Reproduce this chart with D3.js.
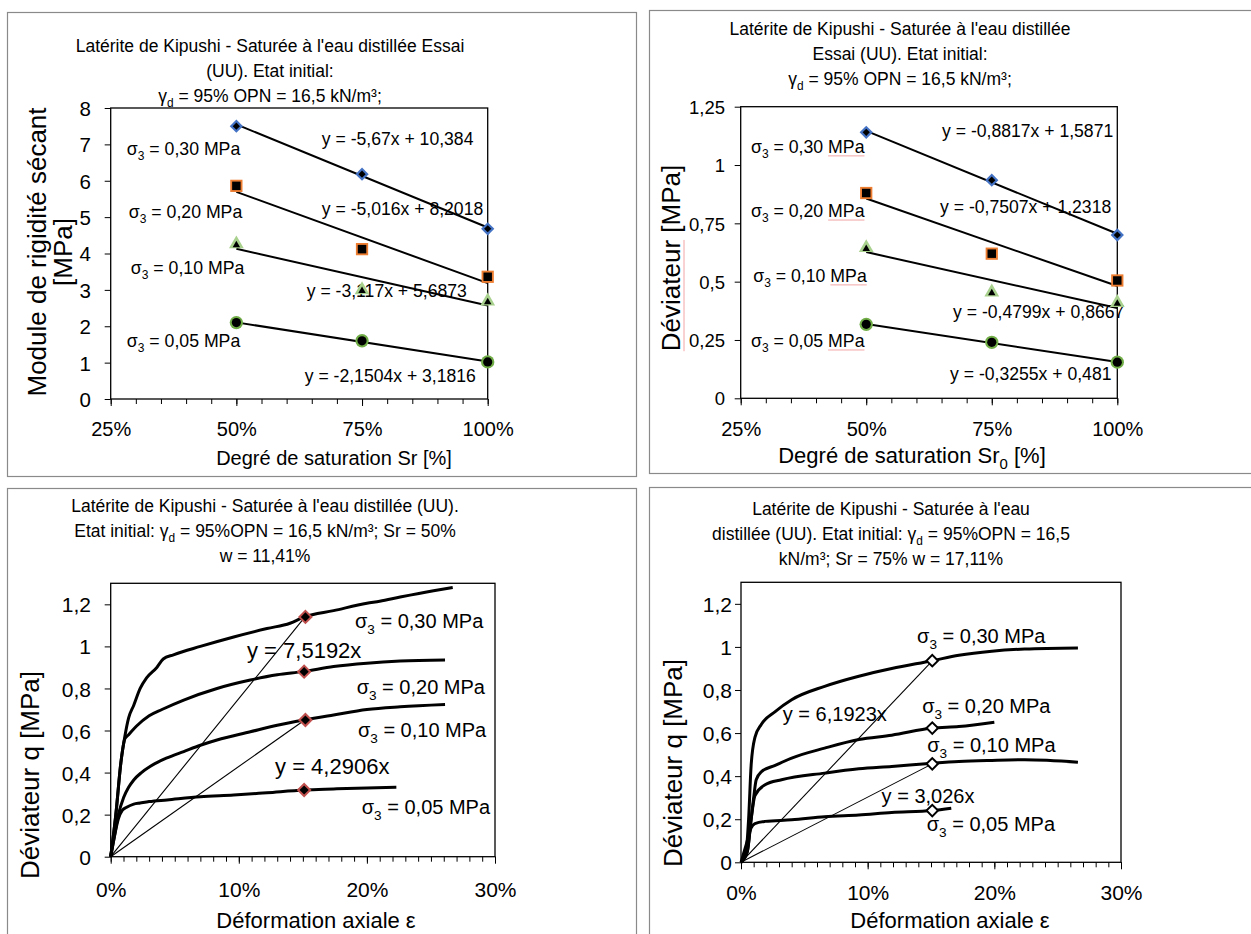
<!DOCTYPE html>
<html><head><meta charset="utf-8">
<script src="https://cdn.jsdelivr.net/npm/d3@7"></script>
<style>body{margin:0;background:#fff}svg{display:block}text{font-family:Arial,"Liberation Sans",sans-serif;fill:#000}</style>
</head><body>
<script>
// ---------- DATA ----------
const sigmaLevels = ["0,30", "0,20", "0,10", "0,05"];
const srValues = [0.5, 0.75, 1.0];
// Panel 1: Module de rigidité sécant [MPa]
const moduleS030 = [7.50, 6.18, 4.68];
const moduleS020 = [5.86, 4.12, 3.36];
const moduleS010 = [4.26, 3.00, 2.69];
const moduleS005 = [2.10, 1.60, 1.02];
const moduleSlopes = [-5.67, -5.016, -3.117, -2.1504];
const moduleIntercepts = [10.384, 8.2018, 5.6873, 3.1816];
// Panel 2: Déviateur [MPa]
const devS030 = [1.14, 0.935, 0.70];
const devS020 = [0.88, 0.62, 0.505];
const devS010 = [0.645, 0.455, 0.41];
const devS005 = [0.317, 0.24, 0.155];
const devSlopes = [-0.8817, -0.7507, -0.4799, -0.3255];
const devIntercepts = [1.5871, 1.2318, 0.8667, 0.481];
// Panel 3: Sr = 50 %  (strain %, q MPa)
const curve50_030 = [[0,0],[0.4,0.2],[0.8,0.45],[1.1,0.57],[1.4,0.66],[1.8,0.72],[2.3,0.8],[2.8,0.85],[3.6,0.9],[4.1,0.94],[4.9,0.96],[7,1.0],[9.6,1.045],[12.2,1.085],[14,1.11],[15.1,1.14],[17.4,1.17],[20,1.205],[21,1.215],[22.6,1.235],[25.2,1.265],[26.7,1.28]];
const curve50_020 = [[0,0],[0.4,0.2],[0.8,0.45],[1.1,0.56],[1.4,0.58],[2,0.62],[3,0.67],[4,0.7],[5.7,0.745],[8.3,0.8],[10.9,0.84],[13,0.865],[15,0.88],[17.4,0.904],[20,0.92],[22.6,0.93],[26.1,0.935]];
const curve50_010 = [[0,0],[0.3,0.1],[0.6,0.2],[1,0.28],[1.4,0.33],[1.8,0.365],[2.4,0.4],[3.1,0.43],[4.4,0.47],[5.7,0.5],[7,0.53],[8.3,0.555],[10.9,0.594],[13,0.625],[15.1,0.65],[17.4,0.674],[20,0.7],[22.6,0.713],[26.1,0.724]];
const curve50_005 = [[0,0],[0.3,0.1],[0.6,0.18],[0.9,0.22],[1.25,0.235],[1.8,0.25],[2.3,0.255],[3,0.262],[4.4,0.27],[7,0.285],[9.6,0.293],[12.2,0.304],[15.1,0.317],[17.4,0.322],[20,0.327],[22.3,0.33]];
const secant50Slopes = [7.5192, 4.2906];
const secant50Points = [[15.2,1.14],[15.1,0.88],[15.2,0.65],[15.1,0.317]];
// Panel 4: Sr = 75 %
const curve75_030 = [[0,0],[0.4,0.05],[0.6,0.2],[0.8,0.45],[1.1,0.58],[1.6,0.64],[2.7,0.7],[4,0.755],[6.6,0.817],[9.3,0.864],[11.9,0.9],[15.1,0.936],[17.2,0.961],[19.8,0.98],[22.4,0.99],[26.6,0.995]];
const curve75_020 = [[0,0],[0.5,0.05],[0.8,0.2],[1,0.3],[1.2,0.383],[1.6,0.42],[2.7,0.45],[4,0.484],[6.6,0.53],[9.3,0.57],[11.9,0.59],[15.1,0.623],[17.2,0.63],[20,0.65]];
const curve75_010 = [[0,0],[0.5,0.05],[0.8,0.2],[1.1,0.31],[1.9,0.36],[3.2,0.383],[6.6,0.414],[9.3,0.434],[11.9,0.445],[15.1,0.46],[17.2,0.468],[19.8,0.473],[22.4,0.476],[26.6,0.465]];
const curve75_005 = [[0,0],[0.4,0.08],[0.8,0.16],[1.1,0.18],[1.9,0.19],[4,0.197],[6.6,0.212],[9.3,0.22],[11.9,0.231],[15.1,0.24],[16.6,0.251]];
const secant75Slopes = [6.1923, 3.026];
const secant75Points = [[15.1,0.936],[15.1,0.623],[15.1,0.457],[15.1,0.24]];
// Tick labels
const srTicks = [0.25, 0.5, 0.75, 1.0];
const moduleTicks = [0,1,2,3,4,5,6,7,8];
const devTicks = [0,0.25,0.5,0.75,1,1.25];
const strainTicks = [0,10,20,30];
const qTicks = [0,0.2,0.4,0.6,0.8,1,1.2];

// ---------- HELPERS ----------
const W = 1251, H = 934;
const svg = d3.select("body").append("svg").attr("width", W).attr("height", H);
svg.append("rect").attr("width", W).attr("height", H).attr("fill", "#fff");
const fc = v => String(v).replace(".", ",");
const FONT = 'Arial,"Liberation Sans",sans-serif';

function frame(x0, y0, x1, y1) {
  svg.append("rect").attr("x", x0 + 0.5).attr("y", y0 + 0.5).attr("width", x1 - x0).attr("height", y1 - y0)
    .attr("fill", "none").attr("stroke", "#8a8a8a").attr("stroke-width", 1.2);
}
function title(cx, ys, lines, size) {
  lines.forEach((ln, i) => {
    const t = svg.append("text").attr("x", cx).attr("y", ys[i]).attr("text-anchor", "middle").attr("font-size", size);
    ln.forEach(seg => {
      const ts = t.append("tspan").text(seg.t);
      if (seg.sub) ts.attr("font-size", size * 0.68).attr("dy", size * 0.28);
      if (seg.back) ts.attr("dy", -size * 0.28);
    });
  });
}
function sigmaLabel(g, x, y, val, size, underline) {
  const t = g.append("text").attr("x", x).attr("y", y).attr("font-size", size);
  t.append("tspan").text("σ");
  t.append("tspan").text("3").attr("font-size", size * 0.68).attr("dy", size * 0.3);
  t.append("tspan").text(" = " + val + " ").attr("dy", -size * 0.3);
  const mpa = t.append("tspan").text("MPa");
  if (underline) {
    const n = t.node();
    const full = n.getComputedTextLength();
    const w = mpa.node().getComputedTextLength();
    g.append("line").attr("x1", x + full - w).attr("x2", x + full).attr("y1", y + 3).attr("y2", y + 3)
      .attr("stroke", "#f2a6a6").attr("stroke-width", 1);
  }
  return t;
}
function plotBox(x0, y0, x1, y1) {
  svg.append("rect").attr("x", x0).attr("y", y0).attr("width", x1 - x0).attr("height", y1 - y0)
    .attr("fill", "none").attr("stroke", "#000").attr("stroke-width", 1.3);
}
function yAxis(y, x0, ticks, fmt, size, labelRight) {
  const g = svg.append("g").attr("transform", `translate(${x0},0)`);
  g.call(d3.axisLeft(y).tickValues(ticks).tickSize(6).tickFormat(fmt));
  g.select(".domain").remove();
  g.selectAll(".tick line").attr("stroke", "#000").attr("stroke-width", 1);
  g.selectAll(".tick text").attr("font-size", size).attr("font-family", FONT).attr("fill", "#000")
    .attr("x", -(x0 - labelRight)).attr("dy", "0.36em");
}
function xAxis(x, y0, majors, minors, fmt, size, baseline) {
  const gm = svg.append("g").attr("transform", `translate(0,${y0})`);
  gm.call(d3.axisBottom(x).tickValues(minors).tickSize(5).tickFormat(""));
  gm.select(".domain").remove();
  gm.selectAll(".tick line").attr("stroke", "#000");
  const g = svg.append("g").attr("transform", `translate(0,${y0})`);
  g.call(d3.axisBottom(x).tickValues(majors).tickSize(7).tickFormat(fmt));
  g.select(".domain").remove();
  g.selectAll(".tick line").attr("stroke", "#000");
  g.selectAll(".tick text").attr("font-size", size).attr("font-family", FONT).attr("fill", "#000")
    .attr("y", baseline - y0).attr("dy", 0);
}
function yTitle(x, cy, lines, size, spacing) {
  lines.forEach((ln, i) => {
    svg.append("text").attr("transform", `translate(${x + i * spacing},${cy}) rotate(-90)`)
      .attr("text-anchor", "middle").attr("font-size", size).text(ln);
  });
}
function xTitle(cx, y, segs, size) {
  const t = svg.append("text").attr("x", cx).attr("y", y).attr("text-anchor", "middle").attr("font-size", size);
  segs.forEach(seg => {
    const ts = t.append("tspan").text(seg.t);
    if (seg.sub) ts.attr("font-size", size * 0.68).attr("dy", size * 0.28);
    if (seg.back) ts.attr("dy", -size * 0.28);
  });
}
const sym = (type, size) => d3.symbol().type(type).size(size)();
function marker(g, cx, cy, kind) {
  const m = g.append("g").attr("transform", `translate(${cx},${cy})`);
  if (kind === 0) {
    m.append("path").attr("d", sym(d3.symbolSquare, 88)).attr("transform", "rotate(45)").attr("fill", "#4472c4");
    m.append("path").attr("d", sym(d3.symbolSquare, 26)).attr("transform", "rotate(45)").attr("fill", "#000");
  } else if (kind === 1) {
    m.append("path").attr("d", sym(d3.symbolSquare, 150)).attr("fill", "#ed7d31");
    m.append("path").attr("d", sym(d3.symbolSquare, 72)).attr("fill", "#000");
  } else if (kind === 2) {
    m.append("path").attr("d", sym(d3.symbolTriangle, 95)).attr("fill", "#a9d18e");
    m.append("path").attr("d", sym(d3.symbolTriangle, 24)).attr("transform", "translate(0,1)").attr("fill", "#000");
  } else {
    m.append("path").attr("d", sym(d3.symbolCircle, 140)).attr("fill", "#70ad47");
    m.append("path").attr("d", sym(d3.symbolCircle, 66)).attr("fill", "#000");
  }
}

// ---------- PANEL 1 ----------
(function () {
  frame(7, 12, 636, 476);
  title(270, [52, 77, 102], [
    [{t: "Latérite de Kipushi - Saturée à l'eau distillée Essai"}],
    [{t: "(UU). Etat initial:"}],
    [{t: "γ"}, {t: "d", sub: true}, {t: " = 95% OPN = 16,5 kN/m³;", back: true}]
  ], 17.5);
  const x = d3.scaleLinear().domain([0.25, 1.0]).range([110.7, 487.7]);
  const y = d3.scaleLinear().domain([0, 8]).range([399, 108]);
  yAxis(y, 110.7, moduleTicks, d => d, 20.5, 91);
  xAxis(x, 399, srTicks, d3.range(0.25, 1.0001, 0.05), d3.format(".0%"), 20, 436);
  plotBox(110.7, 108, 487.7, 399);
  xTitle(334, 465, [{t: "Degré de saturation Sr [%]"}], 20);
  yTitle(46, 252, ["Module de rigidité sécant", "[MPa]"], 26, 26);
  const series = [moduleS030, moduleS020, moduleS010, moduleS005];
  const g = svg.append("g");
  series.forEach((s, i) => {
    g.append("line").attr("x1", x(0.5)).attr("y1", y(moduleSlopes[i] * 0.5 + moduleIntercepts[i]))
      .attr("x2", x(1.0)).attr("y2", y(moduleSlopes[i] * 1.0 + moduleIntercepts[i]))
      .attr("stroke", "#000").attr("stroke-width", 2);
  });
  const sigPos = [[0.282, 6.71], [0.286, 4.98], [0.29, 3.44], [0.282, 1.43]];
  const eqPos = [[0.67, 6.98], [0.67, 5.06], [0.64, 2.80], [0.636, 0.47]];
  series.forEach((s, i) => {
    sigmaLabel(g, x(sigPos[i][0]), y(sigPos[i][1]), sigmaLevels[i], 17.7, false);
    g.append("text").attr("x", x(eqPos[i][0])).attr("y", y(eqPos[i][1])).attr("font-size", 17.6)
      .text(`y = ${fc(moduleSlopes[i])}x + ${fc(moduleIntercepts[i])}`);
  });
  series.forEach((s, i) => s.forEach((v, j) => marker(g, x(srValues[j]), y(v), i)));
})();

// ---------- PANEL 2 ----------
(function () {
  frame(649, 10, 1262, 473);
  title(900, [35, 60, 85], [
    [{t: "Latérite de Kipushi - Saturée à l'eau distillée"}],
    [{t: "Essai (UU). Etat initial:"}],
    [{t: "γ"}, {t: "d", sub: true}, {t: " = 95% OPN = 16,5 kN/m³;", back: true}]
  ], 17.5);
  const x = d3.scaleLinear().domain([0.25, 1.0]).range([740.7, 1117.3]);
  const y = d3.scaleLinear().domain([0, 1.25]).range([398.3, 106.7]);
  yAxis(y, 740.7, devTicks, d => fc(d), 18.5, 725);
  xAxis(x, 398.3, srTicks, d3.range(0.25, 1.0001, 0.05), d3.format(".0%"), 20, 436);
  plotBox(740.7, 106.7, 1117.3, 398.3);
  xTitle(912, 463, [{t: "Degré de saturation Sr"}, {t: "0", sub: true}, {t: " [%]", back: true}], 22);
  // y title with spell-check underline
  const yt = svg.append("text").attr("transform", "translate(680,258) rotate(-90)")
    .attr("text-anchor", "middle").attr("font-size", 26).text("Déviateur  [MPa]");
  const full = yt.node().getComputedTextLength();
  const tmp = svg.append("text").attr("font-size", 26).text("Déviateur");
  const wD = tmp.node().getComputedTextLength(); tmp.remove();
  svg.append("line").attr("x1", 684).attr("x2", 684).attr("y1", 258 + full / 2).attr("y2", 258 + full / 2 - wD)
    .attr("stroke", "#f2a6a6").attr("stroke-width", 1);
  const series = [devS030, devS020, devS010, devS005];
  const g = svg.append("g");
  series.forEach((s, i) => {
    g.append("line").attr("x1", x(0.5)).attr("y1", y(devSlopes[i] * 0.5 + devIntercepts[i]))
      .attr("x2", x(1.0)).attr("y2", y(devSlopes[i] * 1.0 + devIntercepts[i]))
      .attr("stroke", "#000").attr("stroke-width", 2);
  });
  const sigPos = [[0.2705, 1.052], [0.2705, 0.777], [0.275, 0.499], [0.2705, 0.22]];
  const eqPos = [[0.651, 1.12], [0.647, 0.794], [0.673, 0.344], [0.667, 0.079]];
  series.forEach((s, i) => {
    sigmaLabel(g, x(sigPos[i][0]), y(sigPos[i][1]), sigmaLevels[i], 17.7, true);
    g.append("text").attr("x", x(eqPos[i][0])).attr("y", y(eqPos[i][1])).attr("font-size", 17.6)
      .text(`y = ${fc(devSlopes[i])}x + ${fc(devIntercepts[i])}`);
  });
  series.forEach((s, i) => s.forEach((v, j) => marker(g, x(srValues[j]), y(v), i)));
})();

// ---------- PANELS 3 & 4 ----------
function strainPanel(o) {
  frame(o.fx0, o.fy0, o.fx1, 945);
  title(o.tcx, o.tys, o.title, 17.5);
  const x = d3.scaleLinear().domain([0, 30]).range([o.x0, o.x1]);
  const y = d3.scaleLinear().domain([0, 1.3]).range([o.y1, o.y0]);
  yAxis(y, o.x0, qTicks, d => fc(d), 21, o.yLabRight);
  xAxis(x, o.y1, strainTicks, d3.range(0, 30.001, 1), d => d + "%", 21, o.xLabBase);
  plotBox(o.x0, o.y0, o.x1, o.y1);
  xTitle(o.xtcx, 928, [{t: "Déformation axiale ε"}], 22);
  yTitle(o.ytx, o.ytcy, ["Déviateur q [MPa]"], 26, 0);
  const g = svg.append("g");
  const line = d3.line().x(d => x(d[0])).y(d => y(d[1])).curve(d3.curveMonotoneX);
  o.curves.forEach(c => g.append("path").attr("d", line(c)).attr("fill", "none")
    .attr("stroke", "#000").attr("stroke-width", 3).attr("stroke-linejoin", "round"));
  o.slopes.forEach((s, i) => {
    const xe = o.points[o.secIdx[i]][0];
    g.append("line").attr("x1", x(0)).attr("y1", y(0)).attr("x2", x(xe)).attr("y2", y(s * xe / 100))
      .attr("stroke", "#000").attr("stroke-width", 1.1);
  });
  o.sig.forEach((p, i) => sigmaLabel(g, x(p[0]), y(p[1]), sigmaLevels[i], o.sigSize, false));
  o.eq.forEach((p, i) => g.append("text").attr("x", x(p[0])).attr("y", y(p[1])).attr("font-size", o.eqSize)
    .text(`y = ${fc(o.slopes[i])}x`));
  o.points.forEach(p => {
    g.append("path").attr("d", sym(d3.symbolSquare, o.mSize)).attr("transform", `translate(${x(p[0])},${y(p[1])}) rotate(45)`)
      .attr("fill", o.mFill).attr("stroke", o.mStroke).attr("stroke-width", 2);
  });
}
strainPanel({
  fx0: 7, fy0: 488, fx1: 636,
  tcx: 265, tys: [512, 537, 562],
  title: [
    [{t: "Latérite de Kipushi - Saturée à l'eau distillée (UU)."}],
    [{t: "Etat initial: γ"}, {t: "d", sub: true}, {t: " = 95%OPN = 16,5 kN/m³; Sr = 50%", back: true}],
    [{t: "w = 11,41%"}]
  ],
  x0: 110.7, x1: 495, y0: 583.3, y1: 856.7, yLabRight: 91, xLabBase: 897,
  xtcx: 316, ytx: 39, ytcy: 775,
  curves: [curve50_030, curve50_020, curve50_010, curve50_005],
  slopes: secant50Slopes, points: secant50Points, secIdx: [0, 2],
  sig: [[19.07, 1.088], [19.2, 0.774], [19.3, 0.569], [19.6, 0.203]], sigSize: 20,
  eq: [[10.64, 0.945], [12.83, 0.393]], eqSize: 22,
  mSize: 72, mFill: "#000", mStroke: "#c0504d"
});
strainPanel({
  fx0: 649, fy0: 487, fx1: 1262,
  tcx: 891, tys: [515, 540, 565],
  title: [
    [{t: "Latérite de Kipushi - Saturée à l'eau"}],
    [{t: "distillée (UU). Etat initial: γ"}, {t: "d", sub: true}, {t: " = 95%OPN = 16,5", back: true}],
    [{t: "kN/m³; Sr = 75% w = 17,11%"}]
  ],
  x0: 741, x1: 1121, y0: 582.3, y1: 862.3, yLabRight: 732, xLabBase: 900,
  xtcx: 950, ytx: 682, ytcy: 763,
  curves: [curve75_030, curve75_020, curve75_010, curve75_005],
  slopes: secant75Slopes, points: secant75Points, secIdx: [0, 2],
  sig: [[13.9, 1.017], [14.3, 0.693], [14.7, 0.512], [14.66, 0.146]], sigSize: 20,
  eq: [[3.3, 0.656], [11.1, 0.275]], eqSize: 20,
  mSize: 66, mFill: "#fff", mStroke: "#000"
});
</script>
</body></html>
